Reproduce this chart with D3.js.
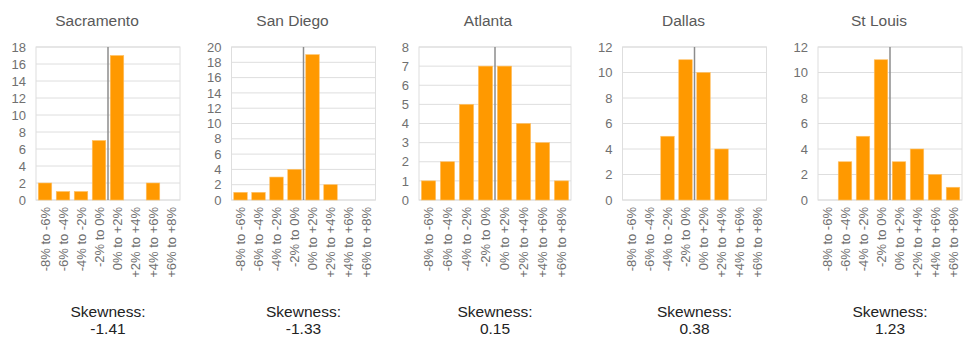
<!DOCTYPE html>
<html><head><meta charset="utf-8">
<script src="https://cdn.jsdelivr.net/npm/d3@7"></script>
<style>body{margin:0;background:#fff}svg{display:block}</style>
</head><body>
<svg id="c" width="974" height="345"></svg>
<script>
const categories = ["-8% to -6%","-6% to -4%","-4% to -2%","-2% to 0%","0% to +2%","+2% to +4%","+4% to +6%","+6% to +8%"];
const cities = ["Sacramento","San Diego","Atlanta","Dallas","St Louis"];
const sacramento = [2,1,1,7,17,0,2,0];
const sanDiego = [1,1,3,4,19,2,0,0];
const atlanta = [1,2,5,7,7,4,3,1];
const dallas = [0,0,5,11,10,4,0,0];
const stLouis = [0,3,5,11,3,4,2,1];
const yMax = [18,20,8,12,12];
const yStep = [2,2,1,2,2];
const skewness = ["-1.41","-1.33","0.15","0.38","1.23"];
const series = [sacramento,sanDiego,atlanta,dallas,stLouis];

const svg = d3.select("#c");
const font = "'Liberation Sans', Arial, sans-serif";
const panelW = 195.5;
const plotTop = 47, plotBottom = 200;

cities.forEach((city,i)=>{
  const ox = i*panelW;
  const left = ox + (yMax[i] >= 10 ? 36 : 28);
  const right = ox + 180;
  const g = svg.append("g");
  const x = d3.scaleBand().domain(categories).range([left,right]).paddingInner(0.25).paddingOuter(0.125);
  const y = d3.scaleLinear().domain([0,yMax[i]]).range([plotBottom,plotTop]);
  const ticks = d3.range(0,yMax[i]+0.001,yStep[i]);
  g.append("g").selectAll("line").data(ticks).join("line")
    .attr("x1",left).attr("x2",right).attr("y1",d=>y(d)).attr("y2",d=>y(d))
    .attr("stroke","#dedede").attr("stroke-width",1);
  g.append("rect").attr("x",left).attr("y",plotTop).attr("width",right-left).attr("height",plotBottom-plotTop)
    .attr("fill","none").attr("stroke","#dedede").attr("stroke-width",1);
  g.append("g").selectAll("rect").data(series[i]).join("rect")
    .attr("x",(d,j)=>x(categories[j])).attr("width",x.bandwidth())
    .attr("y",d=>y(d)).attr("height",d=>plotBottom-y(d))
    .attr("fill","#ff9900").attr("stroke","#ffc266").attr("stroke-width",0.6);
  const zx = x(categories[4]) - x.step()*x.paddingInner()/2;
  g.append("line").attr("x1",zx).attr("x2",zx).attr("y1",plotTop).attr("y2",plotBottom)
    .attr("stroke","#8c8c8c").attr("stroke-width",1.5);
  const ya = d3.axisLeft(y).tickValues(ticks).tickSize(0).tickPadding(10).tickFormat(d3.format("d"));
  const yg = g.append("g").attr("transform",`translate(${left},0)`).call(ya);
  yg.select(".domain").remove();
  yg.selectAll("text").attr("font-family",font).attr("font-size",13).attr("fill","#707070");
  const xa = d3.axisBottom(x).tickSize(0).tickPadding(0);
  const xg = g.append("g").attr("transform",`translate(0,${plotBottom})`).call(xa);
  xg.select(".domain").remove();
  xg.selectAll("text").attr("font-family",font).attr("font-size",13).attr("fill","#707070")
    .attr("transform","rotate(-90)").attr("text-anchor","end").attr("dy","0.35em").attr("x",-7).attr("y",0);
  g.append("text").attr("x",ox+97).attr("y",26).attr("text-anchor","middle")
    .attr("font-family",font).attr("font-size",15.5).attr("fill","#595959").text(city);
  const cx = (left+right)/2;
  g.append("text").attr("x",cx).attr("y",317).attr("text-anchor","middle")
    .attr("font-family",font).attr("font-size",15.5).attr("fill","#222").text("Skewness:");
  g.append("text").attr("x",cx).attr("y",334).attr("text-anchor","middle")
    .attr("font-family",font).attr("font-size",15.5).attr("fill","#222").text(skewness[i]);
});
</script>
</body></html>
